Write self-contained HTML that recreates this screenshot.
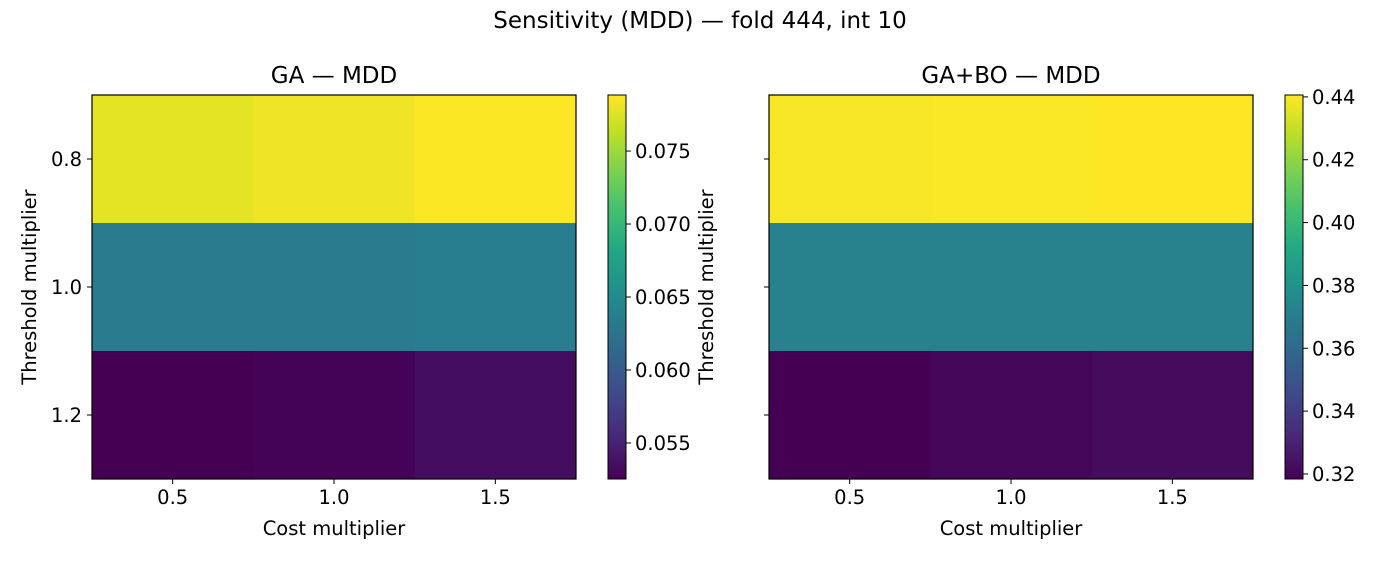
<!DOCTYPE html>
<html><head><meta charset="utf-8"><style>
body{margin:0;background:#fff;font-family:"Liberation Sans","DejaVu Sans",sans-serif;}
svg text{font-family:"DejaVu Sans","Liberation Sans",sans-serif;fill:#000;}
</style></head><body>
<svg id="c" width="1400" height="560">
<defs>
<linearGradient id="vg" x1="0" y1="1" x2="0" y2="0">
<stop offset="0" stop-color="#440154"/><stop offset="0.1" stop-color="#482475"/><stop offset="0.2" stop-color="#414487"/><stop offset="0.3" stop-color="#355f8d"/><stop offset="0.4" stop-color="#2a788e"/><stop offset="0.5" stop-color="#21918c"/><stop offset="0.6" stop-color="#22a884"/><stop offset="0.7" stop-color="#44bf70"/><stop offset="0.8" stop-color="#7ad151"/><stop offset="0.9" stop-color="#bddf26"/><stop offset="1" stop-color="#fde725"/>
</linearGradient></defs>
<text x="700" y="28" font-size="23" text-anchor="middle">Sensitivity (MDD) — fold 444, int 10</text>
</svg>
<script>
const xCats=["0.5","1.0","1.5"];
const yCats=["0.8","1.0","1.2"];
const gaValues=[[0.0778,0.0783,0.0788],[0.0634,0.0635,0.0636],[0.0525,0.0527,0.0534]];
const boValues=[[0.4395,0.4400,0.4406],[0.3720,0.3720,0.3720],[0.3184,0.3205,0.3222]];
const gaTicks=[0.055,0.060,0.065,0.070,0.075];
const boTicks=[0.32,0.34,0.36,0.38,0.40,0.42,0.44];
const gaRange=[0.05253,0.07884];
const boRange=[0.3184,0.4406];
const VS=[[68,1,84],[72,36,117],[65,68,135],[53,95,141],[42,120,142],[33,145,140],[34,168,132],[68,191,112],[122,209,81],[189,223,38],[253,231,37]];
function viridis(t){t=Math.max(0,Math.min(1,t));const p=t*10,i=Math.min(9,Math.floor(p)),f=p-i;
const c=VS[i].map((v,k)=>Math.round(v+(VS[i+1][k]-v)*f));return `rgb(${c})`;}
const svg=document.getElementById('c');const NS='http://www.w3.org/2000/svg';
function el(tag,attrs,parent){const e=document.createElementNS(NS,tag);for(const k in attrs)e.setAttribute(k,attrs[k]);(parent||svg).appendChild(e);return e;}
function panel(px,title,vals,ticks,range,fmt,showY,key){
 const g=el('g',{});
 
 
 const x0=px,y0=95,w=484,h=384,cw=w/xCats.length,ch=h/yCats.length;
 const xs=i=>x0+i*cw, ys=j=>y0+j*ch;
 vals.forEach((row,j)=>row.forEach((v,i)=>{
  const r=el('rect',{x:xs(i),y:ys(j),width:cw+0.5,height:ch+0.5,fill:viridis((v-range[0])/(range[1]-range[0]))},g);
  
  
 }));
 el('rect',{x:x0,y:y0,width:w,height:h,fill:'none',stroke:'#000','stroke-width':1.2},g);
 const t=el('text',{x:x0+w/2,y:83,'font-size':23,'text-anchor':'middle'},g);t.textContent=title;
 
 
 xCats.forEach((c,i)=>{const cx=xs(i)+cw/2;el('line',{x1:cx,x2:cx,y1:y0+h,y2:y0+h+5,stroke:'#000'},g);
  const tx=el('text',{x:cx,y:y0+h+25,'font-size':19.5,'text-anchor':'middle'},g);tx.textContent=c;
  
  });
 yCats.forEach((c,j)=>{const cy=ys(j)+ch/2;el('line',{x1:x0-5,x2:x0,y1:cy,y2:cy,stroke:'#000'},g);
  if(showY){const ty=el('text',{x:x0-10,y:cy+7,'font-size':19.5,'text-anchor':'end'},g);ty.textContent=c;
  
  }});
 const xl=el('text',{x:x0+w/2,y:535,'font-size':19.5,'text-anchor':'middle'},g);xl.textContent='Cost multiplier';
 
 
 const yl=el('text',{x:0,y:0,'font-size':19.5,'text-anchor':'middle',transform:`translate(${x0-56},${y0+h/2}) rotate(-90)`},g);yl.textContent='Threshold multiplier';
 
 
 const bx=x0+w+32,bw=18;
 const cb=el('rect',{x:bx,y:y0,width:bw,height:h,fill:'url(#vg)',stroke:'#000','stroke-width':1},g);
 
 
 ticks.forEach(v=>{const ty=y0+h-(v-range[0])/(range[1]-range[0])*h;
  el('line',{x1:bx+bw,x2:bx+bw+5,y1:ty,y2:ty,stroke:'#000'},g);
  const tt=el('text',{x:bx+bw+9,y:ty+7,'font-size':19.5},g);tt.textContent=v.toFixed(fmt);
  
  });
}
panel(92,'GA — MDD',gaValues,gaTicks,gaRange,3,true,'ga');
panel(769,'GA+BO — MDD',boValues,boTicks,boRange,2,false,'gabo');
</script>
</body></html>
